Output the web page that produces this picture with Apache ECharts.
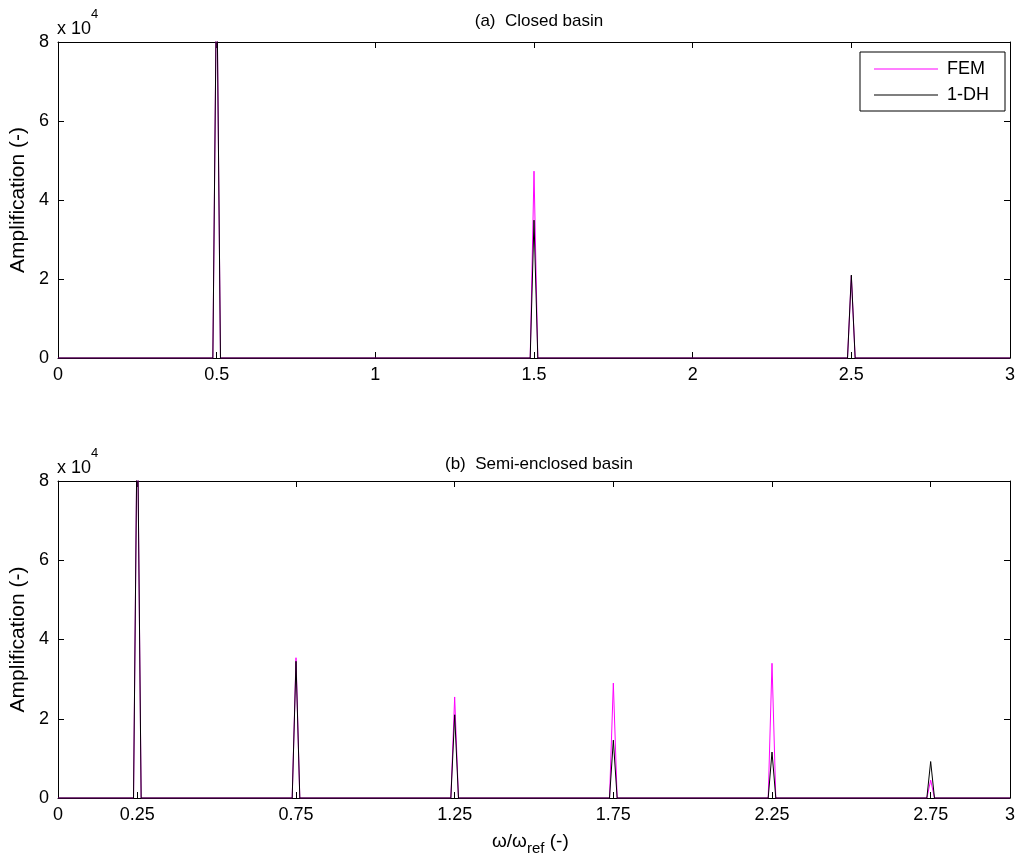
<!DOCTYPE html>
<html>
<head>
<meta charset="utf-8">
<script src="https://cdn.jsdelivr.net/npm/echarts@6/dist/echarts.min.js"></script>
<style>
  html, body { margin: 0; padding: 0; background: #fff; }
  #chart { width: 1017px; height: 868px; }
</style>
</head>
<body>
<div id="chart"></div>
<script>
// Resonance peaks (frequency ratio, amplification) for both basins.
const closedPeakFreq = [0.5, 1.5, 2.5];
const closedFEM      = [100000, 47300, 20800];
const closed1DH      = [100000, 34900, 21000];

const semiPeakFreq = [0.25, 0.75, 1.25, 1.75, 2.25, 2.75];
const semiFEM      = [100000, 35400, 25500, 29000, 34000, 4500];
const semi1DH      = [100000, 34500, 21000, 14600, 11600, 9200];

// Half spacing of the frequency grid around each peak.
const freqStep = 0.012;

const topXTicks    = [0, 0.5, 1, 1.5, 2, 2.5, 3];
const bottomXTicks = [0, 0.25, 0.75, 1.25, 1.75, 2.25, 2.75, 3];

// Response curve: zero between resonances, a sharp spike at each one.
function spectrum(freqs, amps) {
  const pts = [[0, 0]];
  freqs.forEach((f, i) => {
    pts.push([f - freqStep, 0], [f, amps[i]], [f + freqStep, 0]);
  });
  pts.push([3, 0]);
  return pts;
}

const FONT = 'Liberation Sans, Arial, sans-serif';
const TICK_FS = 18;
const grids = [
  { left: 58, top: 42, width: 952, height: 316, outerBoundsMode: 'none', containLabel: false },
  { left: 58, top: 481, width: 952, height: 317, outerBoundsMode: 'none', containLabel: false }
];

const frameLine = { onZero: false, lineStyle: { color: '#000', width: 1 } };
const tickStyle = { inside: true, length: 6, lineStyle: { color: '#000' } };

function xAxes(gridIndex, ticks) {
  return [
    {
      type: 'value', gridIndex, min: 0, max: 3, position: 'bottom',
      axisLine: frameLine,
      axisTick: Object.assign({ customValues: ticks }, tickStyle),
      axisLabel: { customValues: ticks, color: '#000', fontFamily: FONT, fontSize: TICK_FS, margin: 8,
                   formatter: v => String(v) },
      splitLine: { show: false }
    },
    {
      type: 'value', gridIndex, min: 0, max: 3, position: 'top',
      axisLine: frameLine,
      axisTick: Object.assign({ customValues: ticks }, tickStyle),
      axisLabel: { show: false },
      splitLine: { show: false }
    }
  ];
}

function yAxes(gridIndex) {
  return [
    {
      type: 'value', gridIndex, min: 0, max: 80000, interval: 20000, position: 'left',
      name: 'Amplification (-)', nameLocation: 'middle', nameGap: 29, nameMoveOverlap: false,
      nameTextStyle: { color: '#000', fontFamily: FONT, fontSize: 21 },
      axisLine: Object.assign({ show: true }, frameLine),
      axisTick: Object.assign({ show: true }, tickStyle),
      axisLabel: { color: '#000', fontFamily: FONT, fontSize: TICK_FS, margin: 9,
                   formatter: v => String(v / 10000) },
      splitLine: { show: false }
    },
    {
      type: 'value', gridIndex, min: 0, max: 80000, interval: 20000, position: 'right',
      axisLine: Object.assign({ show: true }, frameLine),
      axisTick: Object.assign({ show: true }, tickStyle),
      axisLabel: { show: false },
      splitLine: { show: false }
    }
  ];
}

function lineSeries(name, color, xIdx, yIdx, data, z) {
  return {
    name, type: 'line', xAxisIndex: xIdx, yAxisIndex: yIdx, data,
    symbol: 'none', clip: true, animation: false, z,
    lineStyle: { color, width: 1 }, itemStyle: { color }
  };
}

const powerLabel = {
  b: { fontFamily: FONT, fontSize: TICK_FS, padding: [12, 0, 0, 0] },
  s: { fontFamily: FONT, fontSize: 13, verticalAlign: 'top' }
};

const chart = echarts.init(document.getElementById('chart'));
chart.setOption({
  backgroundColor: '#fff',
  animation: false,
  grid: grids,
  xAxis: [...xAxes(0, topXTicks), ...xAxes(1, bottomXTicks)],
  yAxis: [...yAxes(0), ...yAxes(1)],
  title: [
    { text: '(a)  Closed basin', left: 534, top: 8, textAlign: 'center',
      textStyle: { color: '#000', fontFamily: FONT, fontSize: 17, fontWeight: 'normal' } },
    { text: '(b)  Semi-enclosed basin', left: 534, top: 451, textAlign: 'center',
      textStyle: { color: '#000', fontFamily: FONT, fontSize: 17, fontWeight: 'normal' } }
  ],
  legend: {
    data: ['FEM', '1-DH'],
    orient: 'vertical', left: 860, top: 52,
    icon: 'rect',
    padding: [8, 4, 7, 14],
    itemGap: 8, itemWidth: 64, itemHeight: 1,
    backgroundColor: '#fff', borderColor: '#000', borderWidth: 1, borderRadius: 0,
    textStyle: { color: '#000', fontFamily: FONT, fontSize: 18, lineHeight: 18, padding: [0, 12, 0, 4] }
  },
  graphic: [
    { type: 'text', left: 57, top: 8,
      style: { text: '{b|x 10}{s|4}', fill: '#000', rich: powerLabel } },
    { type: 'text', left: 57, top: 447,
      style: { text: '{b|x 10}{s|4}', fill: '#000', rich: powerLabel } },
    { type: 'text', left: 492, top: 832,
      style: { text: '{w|\u03c9/\u03c9}{r|ref}{w| (-)}', fill: '#000',
               rich: { w: { fontFamily: FONT, fontSize: 19 },
                       r: { fontFamily: FONT, fontSize: 15, padding: [14, 0, 0, 0] } } } }
  ],
  series: [
    lineSeries('FEM', '#ff00ff', 0, 0, spectrum(closedPeakFreq, closedFEM), 2),
    lineSeries('1-DH', '#000000', 0, 0, spectrum(closedPeakFreq, closed1DH), 3),
    lineSeries('FEM', '#ff00ff', 2, 2, spectrum(semiPeakFreq, semiFEM), 2),
    lineSeries('1-DH', '#000000', 2, 2, spectrum(semiPeakFreq, semi1DH), 3)
  ]
});
</script>
</body>
</html>
